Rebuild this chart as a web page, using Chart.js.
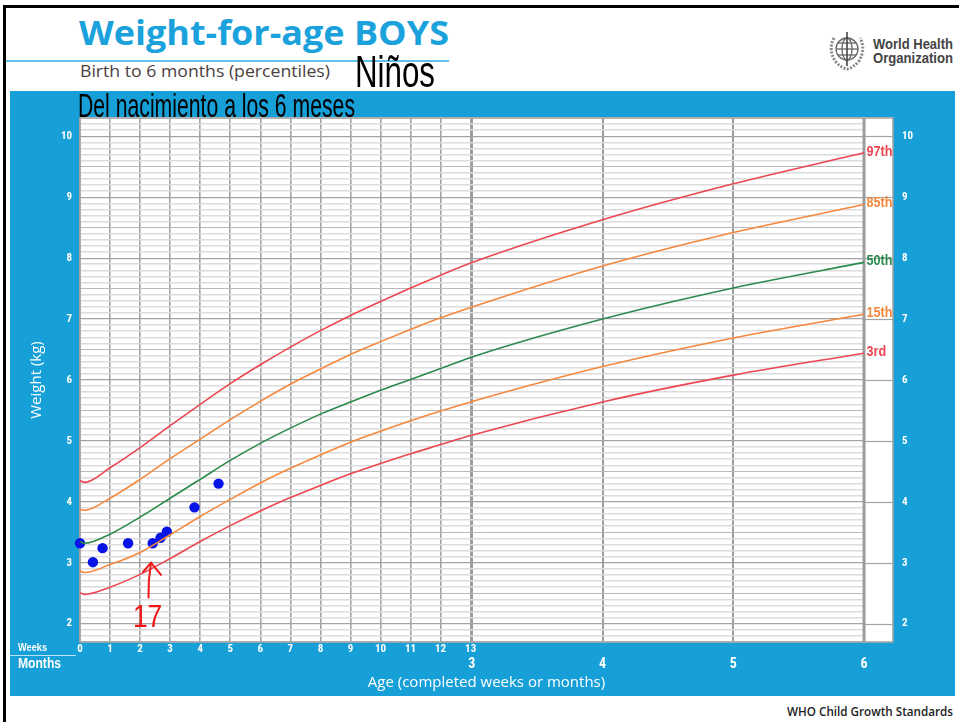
<!DOCTYPE html>
<html><head><meta charset="utf-8">
<script src="https://cdn.jsdelivr.net/npm/chart.js@4.4.1/dist/chart.umd.min.js"></script>
<style>
html,body{margin:0;padding:0;background:#fff;width:959px;height:722px;overflow:hidden;position:relative;font-family:'Open Sans',sans-serif}
.t{position:absolute;white-space:nowrap;transform-origin:0 0;line-height:1}
#frame{position:absolute;left:3px;top:5px;width:1000px;height:800px;border-top:3px solid #000;border-left:3px solid #000;box-sizing:border-box}
#panel{position:absolute;left:10px;top:91px;width:945px;height:605px;background:#179fd8}
#chartbox{position:absolute;left:10px;top:91px;width:945px;height:605px}
#rule{position:absolute;left:6px;top:60px;width:443px;height:2px;background:#5cc3ec}
#title{left:79px;top:15px;font-weight:700;font-size:34px;color:#1ba1dc}
#sub{left:80px;top:63px;font-size:16px;color:#4a4040}
#ninos{left:355px;top:50px;font-size:44px;color:#000;font-family:'Liberation Sans Narrow','Liberation Sans',sans-serif}
#del{left:78px;top:89px;font-size:33px;color:#000;font-family:'Liberation Sans Narrow','Liberation Sans',sans-serif}
#who1,#who2{left:873px;font-size:15px;font-weight:700;color:#444;font-family:'Liberation Sans Narrow','Liberation Sans',sans-serif}
#who1{top:36px}#who2{top:50px}
#weeks{left:18px;top:642px;font-size:11px;font-weight:700;color:#fff;font-family:'Liberation Sans Narrow','Liberation Sans',sans-serif}
#months{left:18px;top:656px;font-size:14px;font-weight:700;color:#fff;font-family:'Liberation Sans Narrow','Liberation Sans',sans-serif}
#sep{position:absolute;left:10px;top:655px;width:66px;height:1px;background:rgba(255,255,255,0.7)}
#foot{left:787px;top:706px;font-size:12.5px;font-weight:600;color:#222}
#logo{position:absolute;left:825px;top:28px}
</style></head>
<body>
<div id="frame"></div>
<div id="panel"></div>
<div id="chartbox"><canvas id="c" width="945" height="605"></canvas></div>
<div id="rule"></div>
<div class="t" id="title">Weight-for-age BOYS</div>
<div class="t" id="sub">Birth to 6 months (percentiles)</div>
<div class="t" id="ninos">Niños</div>
<div class="t" id="del">Del nacimiento a los 6 meses</div>
<svg id="logo" width="44" height="44" viewBox="0 0 44 44">
  <g fill="none" stroke="#666" stroke-width="1.3">
    <circle cx="22" cy="21" r="11"/>
    <ellipse cx="22" cy="21" rx="5" ry="11"/>
    <line x1="11" y1="21" x2="33" y2="21"/>
    <line x1="13" y1="15" x2="31" y2="15"/>
    <line x1="13" y1="27" x2="31" y2="27"/>
    <path d="M9 10 Q3 21 10 33 Q16 40 22 41 Q28 40 34 33 Q41 21 35 10" stroke-width="3" stroke="#888" stroke-dasharray="2 1.5"/>
    <line x1="22" y1="4" x2="22" y2="38" stroke="#444" stroke-width="1.6"/>
  </g>
</svg>
<div class="t" id="who1">World Health</div>
<div class="t" id="who2">Organization</div>
<div id="sep"></div>
<div class="t" id="weeks">Weeks</div>
<div class="t" id="months">Months</div>
<div class="t" id="foot">WHO Child Growth Standards</div>
<script>
// ---- data (age in completed weeks; months 4,5,6 expressed in weeks) ----
const ageWeeks = [0, 0.15, 1, 2, 3, 4, 5, 6, 7, 8, 9, 10, 11, 12, 13, 17.39, 21.74, 26.09];
const p97 = [4.35, 4.32, 4.56, 4.89, 5.25, 5.60, 5.94, 6.25, 6.54, 6.81, 7.06, 7.29, 7.51, 7.72, 7.92, 8.63, 9.22, 9.73];
const p85 = [3.88, 3.86, 4.06, 4.37, 4.71, 5.03, 5.35, 5.65, 5.93, 6.18, 6.42, 6.63, 6.83, 7.02, 7.19, 7.87, 8.42, 8.88];
const p50 = [3.35, 3.32, 3.47, 3.75, 4.06, 4.37, 4.68, 4.96, 5.21, 5.44, 5.64, 5.83, 6.01, 6.19, 6.37, 7.00, 7.51, 7.93];
const p15 = [2.87, 2.84, 2.97, 3.17, 3.46, 3.76, 4.04, 4.31, 4.55, 4.77, 4.98, 5.16, 5.33, 5.49, 5.64, 6.22, 6.69, 7.08];
const p3  = [2.51, 2.48, 2.60, 2.81, 3.07, 3.35, 3.61, 3.85, 4.07, 4.27, 4.46, 4.63, 4.79, 4.94, 5.09, 5.64, 6.08, 6.44];
const percentileNames = ['97th', '85th', '50th', '15th', '3rd'];

const infantWeeks = [0, 0.43, 0.75, 1.6, 2.42, 2.68, 2.89, 3.81, 4.61];
const infantKg    = [3.32, 3.01, 3.24, 3.32, 3.32, 3.41, 3.51, 3.91, 4.30];

const weekTicks = [0,1,2,3,4,5,6,7,8,9,10,11,12,13];
const monthTickWeeks = [13.04, 17.39, 21.74, 26.09];
const monthTickLabels = ['3', '4', '5', '6'];
const kgLabels = [2,3,4,5,6,7,8,9,10];

// handwritten note
const noteWeek = 2.33, noteFromKg = 2.43, noteToKg = 3.0;
const noteText = '17', noteTextWeek = 2.25, noteTextKg = 2.08;

const RED = '#ec4750', ORANGE = '#f5883c', GREEN = '#2b8a4c';
const curveColors = [RED, ORANGE, GREEN, ORANGE, RED];
const NARROW = "'Liberation Sans Narrow','Roboto Condensed',Roboto,sans-serif";

const curves = [p97, p85, p50, p15, p3].map((arr, i) => ({
  type: 'line',
  label: percentileNames[i],
  data: ageWeeks.map((w, j) => ({x: w, y: arr[j]})),
  borderColor: curveColors[i],
  borderWidth: 1.6,
  pointRadius: 0,
  cubicInterpolationMode: 'monotone',
  fill: false
}));

const gridKg = [];
for (let i = 17; i <= 103; i++) gridKg.push(i / 10);

const bgPlugin = {
  id: 'bg',
  beforeDraw(chart) {
    const {ctx, chartArea: a} = chart;
    ctx.save();
    ctx.fillStyle = '#fff';
    ctx.fillRect(a.left, a.top, a.right - a.left, a.bottom - a.top);
    ctx.restore();
  },
  beforeDatasetsDraw(chart) {
    const {ctx, chartArea: a, scales} = chart;
    const x6 = scales.x.getPixelForValue(monthTickWeeks[3]);
    ctx.save();
    ctx.fillStyle = '#fff';
    ctx.fillRect(x6, a.top, a.right - x6, a.bottom - a.top);
    ctx.strokeStyle = '#a4a4a4';
    ctx.lineWidth = 1.2;
    kgLabels.forEach(k => {
      const y = Math.round(scales.y.getPixelForValue(k)) + 0.5;
      ctx.beginPath(); ctx.moveTo(x6, y); ctx.lineTo(a.right, y); ctx.stroke();
    });
    ctx.strokeStyle = '#9c9c9c';
    ctx.lineWidth = 3;
    ctx.beginPath(); ctx.moveTo(x6, a.top); ctx.lineTo(x6, a.bottom); ctx.stroke();
    ctx.lineWidth = 1.5;
    ctx.strokeStyle = '#a0a0a0';
    ctx.strokeRect(a.left, a.top, a.right - a.left, a.bottom - a.top);
    ctx.restore();
  },
  afterDatasetsDraw(chart) {
    const {ctx, scales} = chart;
    ctx.save();
    ctx.textBaseline = 'middle';
    ctx.textAlign = 'left';
    ctx.font = 'bold 14px "Liberation Sans", Roboto, sans-serif';
    const k = 26 / ctx.measureText('97th').width;
    for (let i = 0; i < 5; i++) {
      const meta = chart.getDatasetMeta(i);
      const last = meta.data[meta.data.length - 1];
      ctx.save();
      ctx.translate(last.x + 2.5, last.y - 1);
      ctx.scale(k, 1);
      ctx.fillStyle = curveColors[i];
      ctx.fillText(percentileNames[i], 0, 0);
      ctx.restore();
    }
    // red hand-drawn arrow and note
    const xs = scales.x, ys = scales.y;
    const ax = xs.getPixelForValue(noteWeek);
    const y0 = ys.getPixelForValue(noteFromKg), y1 = ys.getPixelForValue(noteToKg);
    ctx.strokeStyle = '#f01818';
    ctx.lineWidth = 2;
    ctx.lineCap = 'round';
    ctx.beginPath();
    ctx.moveTo(ax - 1.5, y0);
    ctx.quadraticCurveTo(ax - 2, (y0 + y1) / 2, ax + 1, y1);
    ctx.stroke();
    ctx.beginPath();
    ctx.moveTo(ax - 7, y1 + 9);
    ctx.lineTo(ax + 1, y1);
    ctx.lineTo(ax + 11, y1 + 12);
    ctx.stroke();
    ctx.fillStyle = '#f01818';
    ctx.font = '31px "Liberation Sans", sans-serif';
    ctx.textAlign = 'center';
    ctx.translate(xs.getPixelForValue(noteTextWeek), ys.getPixelForValue(noteTextKg));
    ctx.scale(0.85, 1);
    ctx.fillText(noteText, 0, 0);
    ctx.restore();
  }
};

const kgTickLabel = v => {
  const r = Math.round(v * 10) / 10;
  return kgLabels.includes(r) ? String(r) : '';
};
const yGridColor = c => {
  const r = Math.round(c.tick.value * 10);
  if (r % 10 === 0) return '#a4a4a4';
  if (r % 5 === 0) return '#b9b9b9';
  return '#dcdcdc';
};
const yGridWidth = c => {
  const r = Math.round(c.tick.value * 10);
  if (r % 10 === 0) return 1.2;
  if (r % 5 === 0) return 1;
  return 1.6;
};

new Chart(document.getElementById('c'), {
  data: {
    datasets: [
      ...curves,
      {
        type: 'scatter',
        label: 'Niño',
        data: infantWeeks.map((w, i) => ({x: w, y: infantKg[i]})),
        backgroundColor: '#0714e6',
        borderWidth: 0,
        pointRadius: 5.2,
        clip: false
      }
    ]
  },
  options: {
    responsive: false,
    animation: false,
    devicePixelRatio: 1,
    layout: {padding: {top: 27, left: 0, right: 0, bottom: 0}},
    plugins: {legend: {display: false}, tooltip: {enabled: false}},
    scales: {
      x: {
        type: 'linear', position: 'bottom', weight: 0,
        min: 0, max: 27.054,
        afterBuildTicks: s => { s.ticks = weekTicks.map(v => ({value: v})); },
        afterFit: s => { s.height = 14; },
        ticks: {autoSkip: false, maxRotation: 0, padding: 1, color: '#fff',
                font: {family: NARROW, size: 11, weight: 'bold'},
                callback: v => String(v)},
        grid: {color: '#a3a3a3', lineWidth: 1.6, drawTicks: false},
        border: {display: false}
      },
      x2: {
        type: 'linear', position: 'bottom', weight: 1,
        min: 0, max: 27.054,
        afterBuildTicks: s => { s.ticks = monthTickWeeks.map(v => ({value: v})); },
        afterFit: s => { s.height = 40; },
        ticks: {autoSkip: false, maxRotation: 0, padding: 0, color: '#fff',
                font: {family: NARROW, size: 14, weight: 'bold'},
                callback: (v, i) => monthTickLabels[i]},
        grid: {color: '#9c9c9c', lineWidth: 2, drawTicks: false},
        border: {display: false},
        title: {display: true, text: 'Age (completed weeks or months)', color: '#fff',
                font: {family: 'Open Sans', size: 15}, padding: {top: 0, bottom: 4}}
      },
      y: {
        type: 'linear', position: 'left',
        min: 1.7, max: 10.3,
        afterBuildTicks: s => { s.ticks = gridKg.map(v => ({value: v})); },
        afterFit: s => { s.width = 70; },
        ticks: {autoSkip: false, padding: 8, color: '#fff',
                font: {family: NARROW, size: 11, weight: 'bold'}, callback: kgTickLabel},
        grid: {color: yGridColor, lineWidth: yGridWidth, drawTicks: false},
        border: {display: false},
        title: {display: true, text: 'Weight (kg)', color: '#fff',
                font: {family: 'Open Sans', size: 15}, padding: {top: 18, bottom: 0}}
      },
      y2: {
        type: 'linear', position: 'right',
        min: 1.7, max: 10.3,
        afterBuildTicks: s => { s.ticks = gridKg.map(v => ({value: v})); },
        afterFit: s => { s.width = 62; },
        ticks: {autoSkip: false, padding: 9, color: '#fff',
                font: {family: NARROW, size: 11, weight: 'bold'}, callback: kgTickLabel},
        grid: {display: false, drawTicks: false},
        border: {display: false}
      }
    }
  },
  plugins: [bgPlugin]
});

function fit(id, w) {
  const el = document.getElementById(id);
  el.style.transform = 'none';
  const ww = el.getBoundingClientRect().width;
  if (ww > 0) el.style.transform = 'scaleX(' + (w / ww) + ')';
}
function fitAll() {
  fit('title', 370); fit('sub', 250); fit('ninos', 80); fit('del', 277);
  fit('who1', 80); fit('who2', 80); fit('foot', 166); fit('weeks', 29); fit('months', 43);
}
fitAll();
if (document.fonts && document.fonts.ready) document.fonts.ready.then(fitAll);
</script>
</body></html>
